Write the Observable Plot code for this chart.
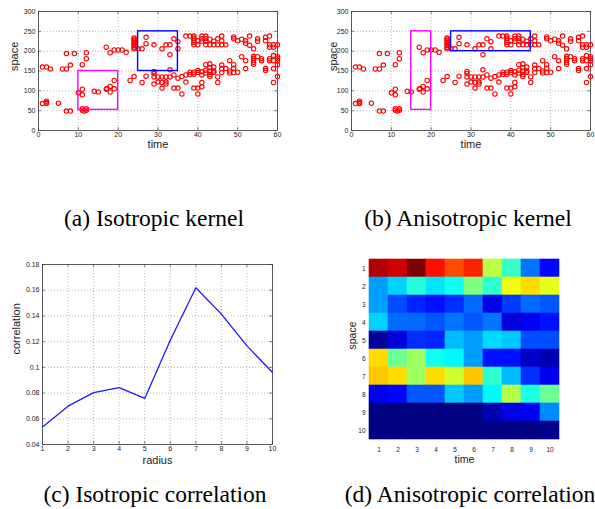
<!DOCTYPE html>
<html><head><meta charset="utf-8">
<script src="https://cdn.jsdelivr.net/npm/d3@7"></script>
<script src="https://cdn.jsdelivr.net/npm/@observablehq/plot@0.6"></script>
<style>
body{margin:0;background:#fff;}
#fig{position:relative;width:595px;height:509px;overflow:hidden;background:#fff;}
.panel{position:absolute;}
.panel svg{overflow:visible;display:block;}
.cap{position:absolute;font-family:"Liberation Serif","Times New Roman",serif;font-size:23.5px;text-align:center;white-space:nowrap;color:#000;line-height:28px;}
</style></head><body><div id="fig"></div>
<script>
// ---------- data ----------
const scatterPoints = [
  [1,160],[2,160],[3,155],
  [1,68],[2,70],[2,74],[2,68],[5,69],
  [6,155],[7,155],[7,194],[8,165],[9,194],
  [7,49],[8,49],
  [10,95],[11,90],[11,104],[11,166],[12,181],[12,196],
  [11,51],[12,51],[11,55],[12,55],[11.5,49],
  [14,99],[15,97],
  [17,104],[17.2,106],[18,111],[18,97],[19,105],[19,126],
  [17,210],[18,196],[19,203],[20,203],[21,203],[22,197],
  [23,126],[24,136],
  [24,206],[24,210],[24,214],[24,218],[24,222],[24,226],[24,230],[24,233],
  [25,206],[26,206],[27,219],[27,235],
  [26,121],[27,137],
  [29,216],[31,206],[32,216],[33,216],[33,191],[34,231],[35,224],[35,206],[33,153],
  [29,149],[29,144],[29,135],[29,117],[30,122],[30,135],[31,107],[31,135],[31,121],[32,135],[32,122],[32,117],
  [33,135],[34,107],[35,107],[34,140],[35,132],[36,92],[36,136],[37,140],[37,122],[38,141],[38,147],[39,147],[39,142],
  [37,238],[38,238],[39,238],[39,233],[39,228],[39,222],[39,216],[40,226],[40,216],[41,238],[41,231],[41,225],
  [42,238],[42,232],[42,225],[42,216],[43,230],[43,216],[44,225],[44,216],[45,231],[45,216],[46,238],[46,226],[46,216],[47,216],
  [39,107],[40,107],[40,92],[41,121],[41,110],[40,146],[40,151],[41,148],[41,140],[42,145],[42,152],[42,166],
  [43,168],[43,158],[43,150],[43,141],[43,136],[44,160],[44,150],[44,146],[45,135],[45,121],[46,165],[46,156],[46,146],
  [47,156],[48,176],[48,150],[48,145],[49,166],[49,146],[49,157],[50,147],
  [49,236],[49,231],[50,226],[51,230],[52,226],[52,220],[53,215],[53,238],[54,206],[55,231],[55,225],
  [57,226],[57,235],[58,238],[58,216],[58,210],[59,210],[59,216],[60,216],
  [51,186],[52,176],[52,156],[54,187],[54,182],[54,177],[54,172],[54,167],[55,186],[56,181],[56,176],
  [57,151],[57,156],[58,181],[58,176],[59,189],[59,176],[59,156],[59,121],[60,186],[60,181],[60,176],[60,166],[60,136]
];
const timeTicks = [0,10,20,30,40,50,60];
const spaceTicks = [0,50,100,150,200,250,300];

const boxesIso = [
  {box:"first", t1:10, t2:20, s1:52, s2:150},
  {box:"second", t1:25, t2:35, s1:150, s2:250}
];
const boxesAniso = [
  {box:"first", t1:15, t2:20, s1:52, s2:250},
  {box:"second", t1:25, t2:45, s1:200, s2:250}
];
const boxColor = {first:"#ff00ff", second:"#0000ff"};

const radius = [1,2,3,4,5,6,7,8,9,10];
const isoCorrelation = [0.0537,0.0698,0.0804,0.0843,0.0758,0.1211,0.1619,0.1414,0.1167,0.0960];
const corrTicks = [0.04,0.06,0.08,0.10,0.12,0.14,0.16,0.18];

const heatIndex = [1,2,3,4,5,6,7,8,9,10];
// rows = space 1..10, columns = time 1..10 (normalised 0..1)
const anisoCorrelation = [
  [0.95,0.92,1.00,0.86,0.80,0.84,0.56,0.43,0.24,0.13],
  [0.28,0.33,0.41,0.35,0.39,0.50,0.42,0.61,0.66,0.60],
  [0.28,0.20,0.16,0.14,0.17,0.23,0.10,0.18,0.23,0.21],
  [0.33,0.23,0.23,0.21,0.24,0.21,0.24,0.09,0.11,0.14],
  [0.03,0.09,0.17,0.16,0.31,0.28,0.34,0.32,0.20,0.20],
  [0.66,0.48,0.53,0.39,0.37,0.28,0.14,0.14,0.07,0.05],
  [0.68,0.66,0.53,0.66,0.58,0.68,0.42,0.31,0.17,0.11],
  [0.11,0.13,0.21,0.21,0.32,0.28,0.37,0.55,0.40,0.48],
  [0.00,0.00,0.00,0.00,0.00,0.00,0.05,0.10,0.11,0.26],
  [0.00,0.00,0.00,0.00,0.00,0.00,0.00,0.00,0.00,0.01]
];
const jetStops = [0,0.125,0.375,0.625,0.875,1];
const jetColors = ["#000080","#0000ff","#00ffff","#ffff00","#ff0000","#800000"];

// ---------- helpers ----------
const fig = document.getElementById("fig");
const sans = "'Liberation Sans', Arial, Helvetica, sans-serif";
function place(node, left, top) {
  const d = document.createElement("div");
  d.className = "panel"; d.style.left = left + "px"; d.style.top = top + "px";
  d.appendChild(node); fig.appendChild(d);
}
function caption(text, cx, cy) {
  const d = document.createElement("div");
  d.className = "cap"; d.textContent = text;
  d.style.left = (cx - 150) + "px"; d.style.width = "300px"; d.style.top = (cy - 14) + "px";
  fig.appendChild(d);
}
const gridStyle = {stroke:"#8c8c8c", strokeOpacity:1, strokeWidth:0.6, strokeDasharray:"1,2"};

function scatter(boxes, W, ml, mr, spaceDx) {
  const H = 160, mt = 11, mb = 30, ph = H - mt - mb;
  const pts = scatterPoints.map(([t, s]) => ({t, s}));
  return Plot.plot({
    width: W, height: H, marginLeft: ml, marginRight: mr, marginTop: mt, marginBottom: mb,
    style: {fontFamily: sans, fontSize: "7px", color: "#222", background: "transparent"},
    x: {domain: [0, 60]}, y: {domain: [0, 300]},
    marks: [
      Plot.gridX(timeTicks.slice(1, -1), gridStyle),
      Plot.gridY(spaceTicks.slice(1, -1), gridStyle),
      Plot.tickX(timeTicks, {x: d => d, insetTop: ph - 3, stroke: "#333", strokeWidth: 0.6}),
      Plot.tickX(timeTicks, {x: d => d, insetBottom: ph - 3, stroke: "#333", strokeWidth: 0.6}),
      Plot.tickY(spaceTicks, {y: d => d, insetRight: W - ml - mr - 3, stroke: "#333", strokeWidth: 0.6}),
      Plot.tickY(spaceTicks, {y: d => d, insetLeft: W - ml - mr - 3, stroke: "#333", strokeWidth: 0.6}),
      Plot.frame({stroke: "#333", strokeWidth: 0.8}),
      Plot.axisX(timeTicks, {tickSize: 0, tickPadding: 2, label: null}),
      Plot.axisY(spaceTicks, {tickSize: 0, tickPadding: 3, label: null}),
      Plot.dot(pts, {x: "t", y: "s", r: 2.2, stroke: "#ff0000", strokeWidth: 1.1}),
      ...boxes.map(b => Plot.rect([b], {x1: "t1", x2: "t2", y1: "s1", y2: "s2", fill: "none", stroke: boxColor[b.box], strokeWidth: 1.4})),
      Plot.text(["time"], {frameAnchor: "bottom", dy: 17, fontSize: 11, fill: "#222"}),
      Plot.text(["space"], {frameAnchor: "left", dx: spaceDx, rotate: -90, fontSize: 11, fill: "#222"})
    ]
  });
}

// (a) and (b)
place(scatter(boxesIso, 297, 38, 20, -24), 0, 0);
place(scatter(boxesAniso, 295, 51, 5, -18), 300, 0);

// (c) line chart
{
  const W = 300, H = 230, ml = 42, mr = 28, mt = 14, mb = 36, pw = W - ml - mr, ph = H - mt - mb;
  const data = radius.map((r, i) => ({r, c: isoCorrelation[i]}));
  const fmt = d => String(+d.toFixed(2));
  place(Plot.plot({
    width: W, height: H, marginLeft: ml, marginRight: mr, marginTop: mt, marginBottom: mb,
    style: {fontFamily: sans, fontSize: "7px", color: "#222", background: "transparent"},
    x: {domain: [1, 10]}, y: {domain: [0.04, 0.18]},
    marks: [
      Plot.gridX(radius.slice(1, -1), gridStyle),
      Plot.gridY(corrTicks.slice(1, -1), gridStyle),
      Plot.tickX(radius, {x: d => d, insetTop: ph - 3, stroke: "#333", strokeWidth: 0.6}),
      Plot.tickX(radius, {x: d => d, insetBottom: ph - 3, stroke: "#333", strokeWidth: 0.6}),
      Plot.tickY(corrTicks, {y: d => d, insetRight: pw - 3, stroke: "#333", strokeWidth: 0.6}),
      Plot.tickY(corrTicks, {y: d => d, insetLeft: pw - 3, stroke: "#333", strokeWidth: 0.6}),
      Plot.frame({stroke: "#333", strokeWidth: 0.8}),
      Plot.axisX(radius, {tickSize: 0, tickPadding: 2, label: null}),
      Plot.axisY(corrTicks, {tickSize: 0, tickPadding: 3, label: null, tickFormat: fmt}),
      Plot.line(data, {x: "r", y: "c", stroke: "#1a1aff", strokeWidth: 1.3}),
      Plot.text(["radius"], {frameAnchor: "bottom", dy: 19, fontSize: 11, fill: "#222"}),
      Plot.text(["correlation"], {frameAnchor: "left", dx: -26, rotate: -90, fontSize: 11, fill: "#222"})
    ]
  }), 0, 250);
}

// (d) heatmap
{
  const W = 265, H = 230, ml = 39, mr = 36, mt = 5, mb = 37;
  const cells = [];
  anisoCorrelation.forEach((row, i) => row.forEach((v, j) => cells.push({s: heatIndex[i], t: heatIndex[j], v})));
  place(Plot.plot({
    width: W, height: H, marginLeft: ml, marginRight: mr, marginTop: mt, marginBottom: mb,
    style: {fontFamily: sans, fontSize: "6.5px", color: "#222", background: "transparent"},
    x: {type: "band", domain: heatIndex, padding: 0},
    y: {type: "band", domain: heatIndex, padding: 0},
    color: {type: "linear", domain: jetStops, range: jetColors},
    marks: [
      Plot.cell(cells, {x: "t", y: "s", fill: "v", inset: -0.3}),
      Plot.axisX(heatIndex, {tickSize: 0, tickPadding: 4, label: null}),
      Plot.axisY(heatIndex, {tickSize: 0, tickPadding: 4, label: null}),
      Plot.text(["time"], {frameAnchor: "bottom", dy: 19, fontSize: 10.5, fill: "#222"}),
      Plot.text(["space"], {frameAnchor: "left", dx: -17, rotate: -90, fontSize: 10.5, fill: "#222"})
    ]
  }), 330, 250);
}

caption("(a) Isotropic kernel", 154, 218);
caption("(b) Anisotropic kernel", 468, 218);
caption("(c) Isotropic correlation", 155, 494);
caption("(d) Anisotropic correlation", 470, 494);
</script></body></html>
